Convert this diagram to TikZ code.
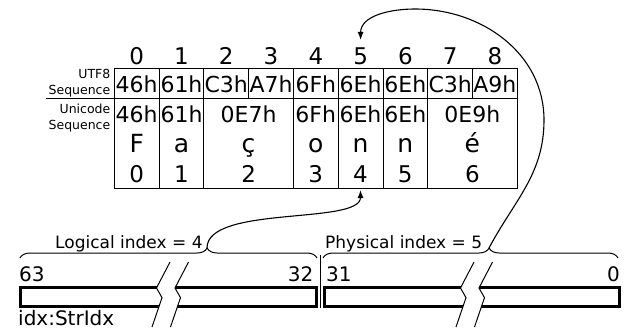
\documentclass[tikz,border=0pt]{standalone}
\usepackage{fontspec}
\setmainfont{DejaVu Sans}
\usetikzlibrary{arrows.meta,decorations.pathreplacing}
\begin{document}
\begin{tikzpicture}[x=1pt,y=-1pt,
  numf/.style={font=\fontsize{23}{27}\selectfont,inner sep=0pt,anchor=base},
  glyf/.style={font=\fontsize{25}{29}\selectfont,inner sep=0pt,anchor=base},
  hexf/.style={font=\fontsize{22}{26}\selectfont,inner sep=0pt,anchor=base},
  seqf/.style={font=\fontsize{12.5}{16}\selectfont,inner sep=0pt,align=right,anchor=north east},
  idxf/.style={font=\fontsize{17}{20}\selectfont,inner sep=0pt,anchor=base west},
  bitf/.style={font=\fontsize{20}{24}\selectfont,inner sep=0pt},
  tbl/.style={line width=0.9pt},
  barbox/.style={line width=3pt},
  conn/.style={line width=1.1pt,-{Latex[length=8pt,width=6pt]}},
  brc/.style={line width=1pt,decorate,decoration={brace,amplitude=10pt,aspect=#1}}]
\useasboundingbox (0,0) rectangle (624,329);
\foreach \i in {0,...,8} \node[numf] (b\i) at ({136.7+44.78*\i},65) {\i};
\foreach \h [count=\i from 0] in {46h,61h,C3h,A7h,6Fh,6Eh,6Eh,C3h,A9h}
  \node[hexf] (u\i) at ({136.7+44.78*\i},92.7) {\h};
\node[seqf] (lutf) at (110.5,69.5) {UTF8\\Sequence};
\node[seqf] (luni) at (110.5,104) {Unicode\\Sequence};
\foreach \x/\h/\gl [count=\i from 0] in {136.7/46h/F,181.5/61h/a,248.6/0E7h/ç,315.7/6Fh/o,360.5/6Eh/n,405.3/6Eh/n,472.4/0E9h/é} {
  \node[hexf] (h\i) at (\x,122) {\h};
  \node[glyf] (g\i) at (\x,152) {\gl};
  \node[numf] (i\i) at (\x,182) {\i};
}
\draw[tbl] (114.3,68.3) rectangle (517.3,188.7);
\draw[tbl] (46,98.3) -- (517.3,98.3);
\foreach \i in {1,...,8} \draw[tbl] ({114.3+44.78*\i},68.3) -- ++(0,30);
\foreach \i in {1,2,4,5,6,7} \draw[tbl] ({114.3+44.78*\i},98.3) -- ++(0,90.4);
\draw[brc=0.63] (20,258) -- (317,258);
\draw[brc=0.563] (323,258) -- (618,258);
\coordinate (ltip) at (207,248);
\coordinate (ptip) at (489,248);
\node[idxf] (lidx) at (55,248) {Logical index = 4};
\node[idxf] (pidx) at (325,248) {Physical index = 5};
\node[bitf,anchor=base west] (m63) at (19,281) {63};
\node[bitf,anchor=base east] (m32) at (313.5,281) {32};
\node[bitf,anchor=base west] (m31) at (326,281) {31};
\node[bitf,anchor=base east] (m0) at (620,281) {0};
\draw[barbox] (20,287) rectangle (316.5,306.5);
\draw[barbox] (324.5,287) rectangle (619,306.5);
\draw[tbl] (320.7,255) -- (320.7,308);
\foreach \s in {0,304} {
  \fill[white,xshift=\s pt] (170,262) -- (156.5,288) -- (162,297.7) -- (152,327) -- (170.5,327) -- (180.5,297.7) -- (175,288) -- (188.5,262) -- cycle;
  \draw[line width=1pt,xshift=\s pt] (170,262) -- (156.5,288) -- (162,297.7) -- (152,327);
  \draw[line width=1pt,xshift=\s pt] (188.5,262) -- (175,288) -- (180.5,297.7) -- (170.5,327);
}
\node[bitf,anchor=base west] (sidx) at (18,325) {idx:StrIdx};
\draw[conn] (ltip) .. controls (207,205) and (360.5,225) .. ([yshift=-8pt]i4.base);
\draw[conn] (ptip) to[out=62,in=-90] (544,120) to[out=90,in=0] (415,9) to[out=180,in=90] ([yshift=25pt]b5.base);
\end{tikzpicture}
\end{document}
